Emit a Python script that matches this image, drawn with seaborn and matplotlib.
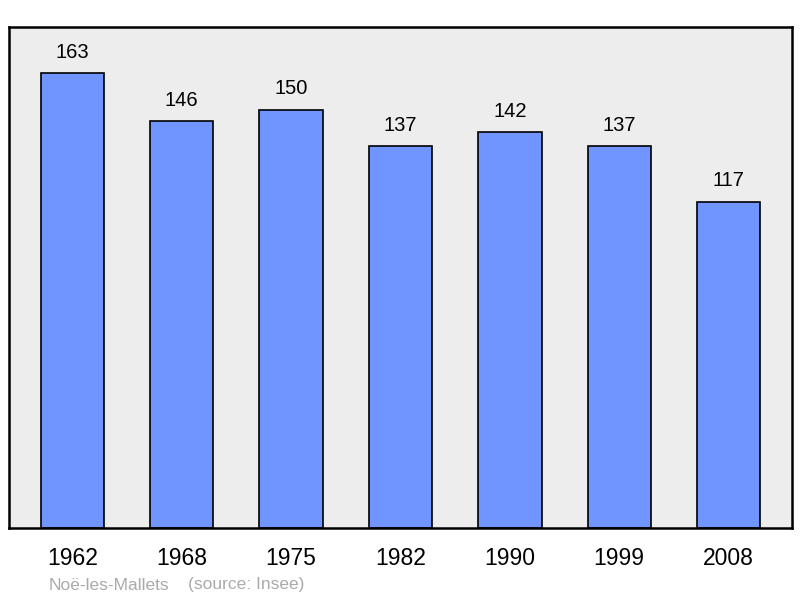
import pandas as pd
import matplotlib.pyplot as plt
import seaborn as sns

years = ['1962', '1968', '1975', '1982', '1990', '1999', '2008']
population = [163, 146, 150, 137, 142, 137, 117]

df = pd.DataFrame({'year': years, 'population': population})

sns.set_style('white')
plt.rcParams['font.family'] = ['Liberation Sans', 'DejaVu Sans']
plt.rcParams['text.color'] = 'black'
plt.rcParams['xtick.color'] = 'black'

fig = plt.figure(figsize=(8, 5.98), dpi=100)
ax = fig.add_axes([9 / 800, 1 - 528 / 598, 783 / 800, 501 / 598])
ax.set_facecolor('#ededed')

sns.barplot(data=df, x='year', y='population', color='#7095ff', saturation=1,
            width=0.58, edgecolor='black', linewidth=1.2, ax=ax)

# value labels above each bar
for i, v in enumerate(population):
    ax.text(i, v + 4, str(v), ha='center', va='bottom', fontsize=14.5, color='black')

ax.set_xlim(-0.58, 6.58)
ax.set_ylim(0, 179.6)
ax.set_yticks([])
ax.set_xlabel('')
ax.set_ylabel('')
ax.tick_params(axis='x', length=0, labelsize=16.5, pad=14, labelcolor='black')
for s in ax.spines.values():
    s.set_color('black')
    s.set_linewidth(1.8)

fig.text(49 / 800, 1 - 585 / 598, 'Noë-les-Mallets', color='#aaaaaa',
         fontsize=12.5, va='center', ha='left')
fig.text(188 / 800, 1 - 585 / 598, '(source: Insee)', color='#aaaaaa',
         fontsize=12.5, va='center', ha='left')

fig.savefig('out.png', dpi=100)
